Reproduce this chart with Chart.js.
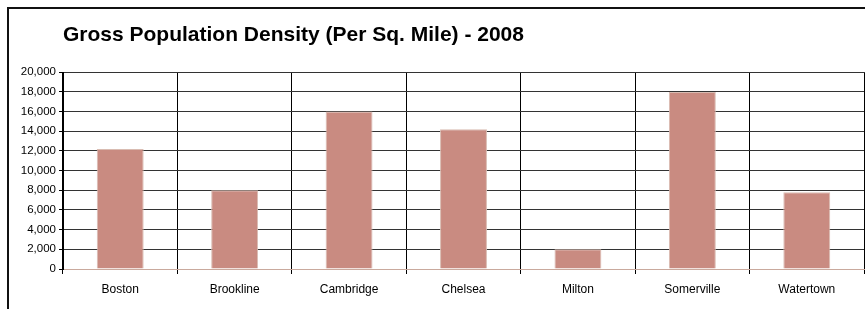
<!DOCTYPE html>
<html>
<head>
<meta charset="utf-8">
<script src="https://cdn.jsdelivr.net/npm/chart.js@4"></script>
<style>
  html, body { margin: 0; padding: 0; background: #fff; }
  body { width: 865px; height: 309px; position: relative; overflow: hidden; }
  #frame { position: absolute; left: 7px; top: 7px; width: 900px; height: 400px;
           border-left: 2px solid #111; border-top: 2px solid #111; box-sizing: border-box; }
  #wrap { position: absolute; left: 0; top: 0; width: 865px; height: 309px; }
</style>
</head>
<body>
<div id="frame"></div>
<div id="wrap"><canvas id="c" width="865" height="309"></canvas></div>
<script>
const categories = ["Boston", "Brookline", "Cambridge", "Chelsea", "Milton", "Somerville", "Watertown"];
const densityValues = [12200, 8000, 16000, 14200, 2000, 18000, 7800];
const yTickValues = [0, 2000, 4000, 6000, 8000, 10000, 12000, 14000, 16000, 18000, 20000];
const chartTitle = "Gross Population Density (Per Sq. Mile) - 2008";

const FONT = "'Liberation Sans', Arial, sans-serif";

new Chart(document.getElementById('c'), {
  type: 'bar',
  data: {
    labels: categories,
    datasets: [{
      data: densityValues,
      backgroundColor: '#C98B81',
      borderColor: '#D9BCB2',
      borderWidth: 1,
      barPercentage: 0.41,
      categoryPercentage: 1.0
    }]
  },
  options: {
    responsive: false,
    animation: false,
    devicePixelRatio: 1,
    layout: { padding: { left: 0, right: 1, top: 0, bottom: 0 } },
    plugins: {
      legend: { display: false },
      tooltip: { enabled: false },
      title: {
        display: true,
        text: chartTitle,
        align: 'start',
        fullSize: false,
        color: '#000',
        font: { family: FONT, size: 21, weight: 'bold', lineHeight: 1.2 },
        padding: { top: 23, bottom: 24 }
      }
    },
    scales: {
      x: {
        grid: {
          display: true,
          offset: true,
          color: (ctx) => (ctx.index === categories.length ? '#888' : '#000'),
          lineWidth: 1,
          drawTicks: true,
          tickLength: 5,
          tickColor: '#000'
        },
        border: { display: true, color: '#C9A99D', width: 1 },
        ticks: {
          color: '#000',
          font: { family: FONT, size: 12 },
          padding: 8,
          maxRotation: 0,
          autoSkip: false
        },
        afterFit: (s) => { s.height = 40; }
      },
      y: {
        min: 0,
        max: 20000,
        afterBuildTicks: (s) => { s.ticks = yTickValues.map(v => ({ value: v })); },
        grid: {
          color: (ctx) => (ctx.tick && ctx.tick.value === 0 ? '#C9A99D' : '#333'),
          lineWidth: 1,
          drawTicks: true,
          tickLength: 4,
          tickColor: '#000'
        },
        border: { display: true, color: '#000', width: 1 },
        ticks: {
          color: '#000',
          font: { family: FONT, size: 11.5 },
          padding: 3,
          callback: (v) => Number(v).toLocaleString('en-US')
        },
        afterFit: (s) => { s.width = 63; }
      }
    }
  }
});
</script>
</body>
</html>
